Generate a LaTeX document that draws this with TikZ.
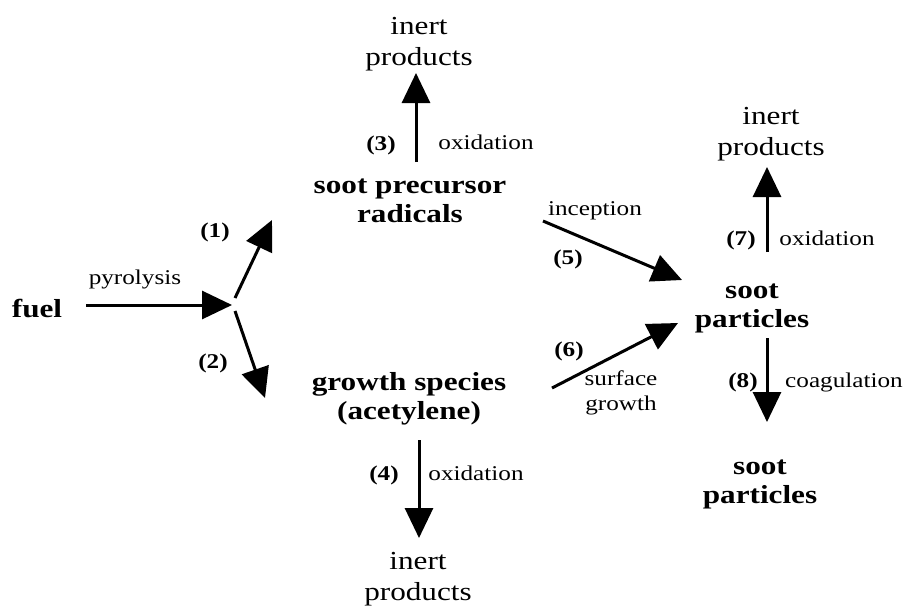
\documentclass[tikz,border=0pt]{standalone}
\usepackage{fontspec}
\setmainfont{Liberation Serif}[FakeStretch=1.2]
\usetikzlibrary{arrows.meta}
\begin{document}
\begin{tikzpicture}[x=1pt,y=-1pt,
  big/.style={font=\fontsize{26}{31}\selectfont, inner sep=0pt, align=center, anchor=base},
  bigb/.style={font=\fontsize{26}{29}\selectfont\bfseries, inner sep=0pt, align=center, anchor=base},
  lab/.style={font=\fontsize{21}{25}\selectfont, inner sep=0pt, align=center, anchor=base},
  num/.style={font=\fontsize{21}{25}\selectfont\bfseries, inner sep=0pt, anchor=base},
  arr/.style={line width=3pt, -{Triangle[length=30pt,width=28pt]}}]
\useasboundingbox (0,0) rectangle (912,613);
% main nodes (multi-line nodes are placed by the baseline of their last line)
\node[bigb] (fuel) at (37,317) {fuel};
\node[bigb] (spr) at (410,222) {soot precursor\\radicals};
\node[bigb] (gs) at (409,419) {growth species\\(acetylene)};
\node[bigb] (sp) at (752,327) {soot\\particles};
\node[bigb] (sp2) at (760,503) {soot\\particles};
\node[big] (ip1) at (419,65) {inert\\products};
\node[big] (ip2) at (418,600) {inert\\products};
\node[big] (ip3) at (771,155) {inert\\products};
% labels
\node[lab] (lpyr) at (135,284) {pyrolysis};
\node[num] (n1) at (215,237) {(1)};
\node[num] (n2) at (213,368) {(2)};
\node[num] (n3) at (381,150) {(3)};
\node[lab] (lox3) at (486,149) {oxidation};
\node[num] (n4) at (384,480) {(4)};
\node[lab] (lox4) at (476,480) {oxidation};
\node[lab] (linc) at (595,215) {inception};
\node[num] (n5) at (568,264) {(5)};
\node[num] (n6) at (569,356) {(6)};
\node[lab] (lsg) at (621,410) {surface\\growth};
\node[num] (n7) at (741,245) {(7)};
\node[lab] (lox7) at (827,245) {oxidation};
\node[num] (n8) at (743,387) {(8)};
\node[lab] (lcoag) at (844,387) {coagulation};
% connector end points
\coordinate (f0) at (86,305);
\coordinate (j) at (232,305);
\coordinate (j1) at (235,298);
\coordinate (t1) at (272,220);
\coordinate (j2) at (235,311);
\coordinate (t2) at (265,398);
\coordinate (s3) at (416,162);
\coordinate (t3) at (416,73);
\coordinate (s4) at (419,440);
\coordinate (t4) at (419,538);
\coordinate (s5) at (543,221);
\coordinate (t5) at (682,280);
\coordinate (s6) at (552,388);
\coordinate (t6) at (678,323);
\coordinate (s7) at (767,252);
\coordinate (t7) at (767,167);
\coordinate (s8) at (767,338);
\coordinate (t8) at (767,422);
% connectors
\draw[arr] (f0) -- (j);
\draw[arr] (j1) -- (t1);
\draw[arr] (j2) -- (t2);
\draw[arr] (s3) -- (t3);
\draw[arr] (s4) -- (t4);
\draw[arr] (s5) -- (t5);
\draw[arr] (s6) -- (t6);
\draw[arr] (s7) -- (t7);
\draw[arr] (s8) -- (t8);
\end{tikzpicture}
\end{document}
